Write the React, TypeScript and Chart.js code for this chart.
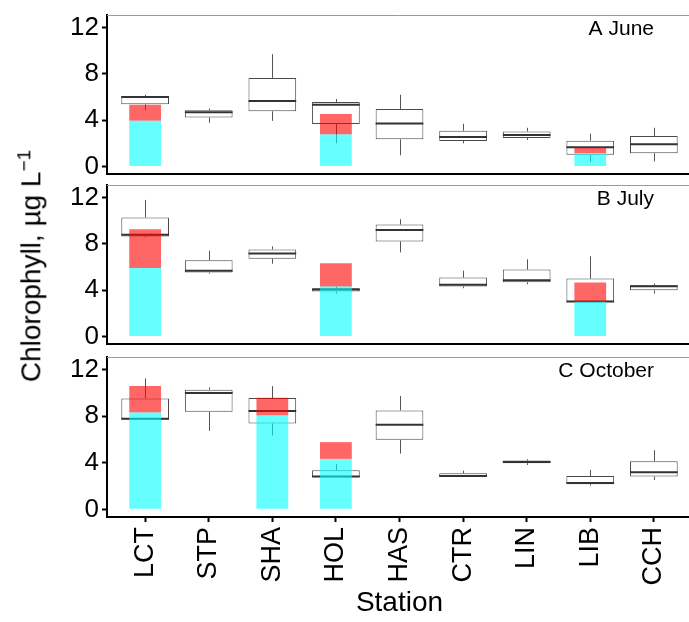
import React, { useEffect, useRef } from 'react';
import { Chart, registerables } from 'chart.js';
Chart.register(...registerables);

const stations = ['LCT', 'STP', 'SHA', 'HOL', 'HAS', 'CTR', 'LIN', 'LIB', 'CCH'];
const yTicks = [0, 4, 8, 12];
const panelTitles = ['A June', 'B July', 'C October'];

// June
const juneQ1 = [5.37, 4.23, 4.77, 3.66, 2.34, 2.2, 2.46, 1.0, 1.14];
const juneQ3 = [6.09, 4.86, 7.66, 5.57, 4.97, 3.09, 3.03, 2.23, 2.63];
const juneMed = [6.0, 4.69, 5.66, 5.34, 3.71, 2.54, 2.71, 1.66, 1.91];
const juneLo = [4.86, 3.77, 3.94, 2.0, 0.97, 2.0, 2.29, 0.4, 0.43];
const juneHi = [6.2, 5.0, 9.71, 5.83, 6.2, 3.69, 3.34, 2.83, 3.34];
const juneCyan = [3.94, null, null, 2.77, null, null, null, 1.14, null];
const juneRed = [5.34, null, null, 4.54, null, null, null, 1.63, null];

// July
const julyQ1 = [8.65, 5.52, 6.72, 3.88, 8.22, 4.31, 4.68, 2.99, 3.99];
const julyQ3 = [10.29, 6.58, 7.53, 4.17, 9.68, 5.09, 5.78, 5.0, 4.43];
const julyMed = [8.79, 5.69, 7.18, 4.05, 9.2, 4.48, 4.86, 3.02, 4.34];
const julyLo = [8.56, 5.43, 6.29, 3.7, 7.27, 4.17, 4.51, 2.99, 3.71];
const julyHi = [11.81, 7.41, 7.79, 4.3, 10.14, 5.69, 6.67, 6.93, 4.57];
const julyCyan = [5.92, null, null, 4.31, null, null, null, 2.99, null];
const julyRed = [9.28, null, null, 6.33, null, null, null, 4.66, null];

// October
const octQ1 = [7.73, 8.39, 7.39, 2.76, 5.98, 2.79, 3.97, 2.16, 2.82];
const octQ3 = [9.54, 10.29, 9.57, 3.36, 8.51, 3.1, 4.2, 2.87, 4.14];
const octMed = [7.79, 10.0, 8.45, 2.82, 7.27, 2.87, 4.08, 2.27, 3.19];
const octLo = [7.67, 6.75, 6.35, 2.76, 4.8, 2.79, 3.82, 2.04, 2.53];
const octHi = [11.26, 10.49, 10.6, 3.91, 9.74, 3.33, 4.31, 3.39, 5.09];
const octCyan = [8.33, null, 8.07, 4.34, null, null, null, null, null];
const octRed = [10.6, null, 9.6, 5.78, null, null, null, null, null];

const panels = [
  { title: panelTitles[0], q1: juneQ1, q3: juneQ3, med: juneMed, lo: juneLo, hi: juneHi, cyan: juneCyan, red: juneRed },
  { title: panelTitles[1], q1: julyQ1, q3: julyQ3, med: julyMed, lo: julyLo, hi: julyHi, cyan: julyCyan, red: julyRed },
  { title: panelTitles[2], q1: octQ1, q3: octQ3, med: octMed, lo: octLo, hi: octHi, cyan: octCyan, red: octRed },
];

const FONT = '"Liberation Sans", Arial, sans-serif';

const boxPlugin = {
  id: 'boxExtras',
  beforeDatasetsDraw(chart: any) {
    const { ctx, chartArea } = chart;
    ctx.save();
    ctx.strokeStyle = '#9a9a9a';
    ctx.lineWidth = 1;
    ctx.beginPath();
    ctx.moveTo(chartArea.left, chartArea.top + 0.5);
    ctx.lineTo(chartArea.right - 0.5, chartArea.top + 0.5);
    ctx.lineTo(chartArea.right - 0.5, chartArea.bottom);
    ctx.stroke();
    ctx.restore();
  },
  afterDatasetDraw(chart: any, args: any, opts: any) {
    if (args.index !== 0) return;
    const { ctx } = chart;
    const y = chart.scales.y;
    const meta = args.meta;
    ctx.save();
    meta.data.forEach((el: any, i: number) => {
      const x = Math.round(el.x) + 0.5;
      const half = el.width / 2;
      ctx.strokeStyle = '#555';
      ctx.lineWidth = 1;
      ctx.beginPath();
      ctx.moveTo(x, y.getPixelForValue(opts.q3[i]));
      ctx.lineTo(x, y.getPixelForValue(opts.hi[i]));
      ctx.moveTo(x, y.getPixelForValue(opts.q1[i]));
      ctx.lineTo(x, y.getPixelForValue(opts.lo[i]));
      ctx.stroke();
      ctx.strokeStyle = '#333';
      ctx.lineWidth = 2;
      ctx.beginPath();
      const my = y.getPixelForValue(opts.med[i]);
      ctx.moveTo(el.x - half, my);
      ctx.lineTo(el.x + half, my);
      ctx.stroke();
    });
    ctx.restore();
  },
  afterDraw(chart: any, _args: any, opts: any) {
    const { ctx, chartArea } = chart;
    ctx.save();
    // bottom axis line
    ctx.strokeStyle = '#000';
    ctx.lineWidth = 2;
    ctx.beginPath();
    ctx.moveTo(chartArea.left - 1, chartArea.bottom + 1);
    ctx.lineTo(chartArea.right, chartArea.bottom + 1);
    ctx.stroke();
    ctx.fillStyle = '#000';
    ctx.font = `21px ${FONT}`;
    ctx.textAlign = 'right';
    ctx.textBaseline = 'middle';
    ctx.fillText(opts.title, chartArea.right - 38, chartArea.top + 14);
    ctx.restore();
  },
};

function makeChart(canvas: HTMLCanvasElement, p: any, padTop: number, xHeight: number, showX: boolean) {
  const xs = stations.map((_, i) => i + 1);
  const boxData = xs.map((x, i) => ({ x, y: [p.q1[i], p.q3[i]] }));
  const cyanData = xs
    .map((x, i) => (p.cyan[i] == null ? null : { x, y: [0, p.cyan[i]] }))
    .filter((d) => d !== null);
  const redData = xs
    .map((x, i) => (p.red[i] == null ? null : { x, y: [p.cyan[i], p.red[i]] }))
    .filter((d) => d !== null);

  return new Chart(canvas, {
    type: 'bar',
    data: {
      datasets: [
        {
          data: boxData as any,
          backgroundColor: '#ffffff',
          borderColor: '#4a4a4a',
          borderWidth: 1,
          borderSkipped: false,
          grouped: false,
          categoryPercentage: 1,
          barPercentage: 0.75,
          order: 2,
        },
        {
          data: cyanData as any,
          backgroundColor: 'rgba(0,255,255,0.6)',
          borderWidth: 0,
          grouped: false,
          categoryPercentage: 1,
          barPercentage: 0.5,
          order: 1,
        },
        {
          data: redData as any,
          backgroundColor: 'rgba(255,0,0,0.6)',
          borderWidth: 0,
          grouped: false,
          categoryPercentage: 1,
          barPercentage: 0.5,
          order: 1,
        },
      ],
    },
    options: {
      animation: false,
      responsive: false,
      devicePixelRatio: 1,
      layout: { padding: { top: padTop, left: 0, right: 3, bottom: 0 } },
      plugins: {
        legend: { display: false },
        tooltip: { enabled: false },
        boxExtras: { q1: p.q1, q3: p.q3, med: p.med, lo: p.lo, hi: p.hi, title: p.title },
      } as any,
      scales: {
        x: {
          type: 'linear',
          position: 'bottom',
          min: 0.4,
          max: 9.6,
          offset: false,
          afterFit: (s: any) => {
            s.height = xHeight;
            s.paddingLeft = 0;
            s.paddingRight = 0;
            s.paddingTop = 0;
            s.paddingBottom = 0;
          },
          afterBuildTicks: (s: any) => {
            s.ticks = xs.map((v) => ({ value: v }));
          },
          grid: {
            offset: false,
            display: true,
            drawOnChartArea: false,
            drawTicks: showX,
            tickLength: 6,
            tickWidth: 2,
            tickColor: '#000',
          },
          border: { display: false },
          ticks: {
            display: showX,
            autoSkip: false,
            minRotation: 90,
            maxRotation: 90,
            padding: 5,
            color: '#000',
            font: { family: FONT, size: 27 },
            callback: (v: any) => stations[Math.round(Number(v)) - 1],
          },
          title: {
            display: showX,
            text: 'Station',
            color: '#000',
            font: { family: FONT, size: 28 },
            padding: { top: 0, bottom: 2 },
          },
        },
        y: {
          type: 'linear',
          min: -0.57,
          max: 13.1,
          afterFit: (s: any) => {
            s.width = 107;
            s.paddingTop = 0;
            s.paddingBottom = 0;
            s.paddingLeft = 0;
            s.paddingRight = 0;
          },
          afterBuildTicks: (s: any) => {
            s.ticks = yTicks.map((v) => ({ value: v }));
          },
          grid: {
            display: true,
            drawOnChartArea: false,
            drawTicks: true,
            tickLength: 5,
            tickWidth: 2,
            tickColor: '#000',
          },
          border: { display: true, color: '#000', width: 2 },
          ticks: {
            padding: 3,
            color: '#000',
            font: { family: FONT, size: 26 },
          },
        },
      },
    },
    plugins: [boxPlugin],
  } as any);
}

function Panel({ p, top, height, padTop, xHeight, showX }: any) {
  const ref = useRef<HTMLCanvasElement>(null);
  useEffect(() => {
    const c = makeChart(ref.current!, p, padTop, xHeight, showX);
    return () => c.destroy();
  }, []);
  return (
    <canvas
      ref={ref}
      width={695}
      height={height}
      style={{ position: 'absolute', left: 0, top, width: 695, height }}
    />
  );
}

export default function App() {
  return (
    <div
      style={{
        position: 'fixed',
        left: 0,
        top: 0,
        width: 689,
        height: 622,
        overflow: 'hidden',
        background: '#fff',
      }}
    >
      <Panel p={panels[0]} top={0} height={180} padTop={15} xHeight={7} showX={false} />
      <Panel p={panels[1]} top={180} height={170} padTop={5} xHeight={7} showX={false} />
      <Panel p={panels[2]} top={350} height={272} padTop={7} xHeight={106} showX={true} />
      <div
        style={{
          position: 'absolute',
          left: 30,
          top: 266,
          transform: 'translate(-50%, -50%) rotate(-90deg)',
          whiteSpace: 'nowrap',
          fontFamily: FONT,
          fontSize: 28,
          lineHeight: 1,
          color: '#000',
        }}
      >
        Chlorophyll, µg L<sup style={{ fontSize: 19 }}>−1</sup>
      </div>
    </div>
  );
}
